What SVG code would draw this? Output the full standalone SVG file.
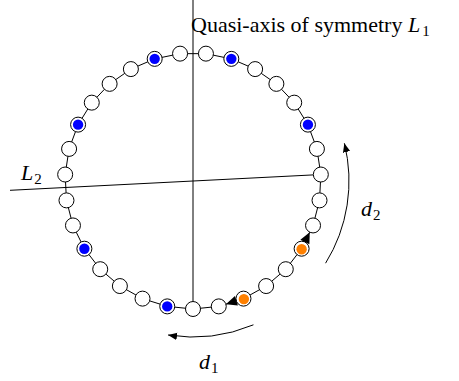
<svg xmlns="http://www.w3.org/2000/svg" width="459" height="381" viewBox="0 0 459 381">
<defs>
<style>
.nd{fill:#fff;stroke:#000;stroke-width:1}
.bl{fill:#0000ff;stroke:none}
.or{fill:#ff8000;stroke:none}
.ln{stroke:#000;stroke-width:1;fill:none}
.ah{fill:#000;stroke:none}
.t{font-family:"Liberation Serif","Times New Roman",serif;font-size:21px;fill:#000}
.hd{font-size:22px}
.it{font-style:italic;font-size:22px}
.sb{font-size:15px}
</style>
<marker id="arr" markerUnits="userSpaceOnUse" markerWidth="12" markerHeight="10" refX="9" refY="4" orient="auto" viewBox="0 0 12 10">
<path d="M9,4 L0,0.3 L0,7.7 Z" fill="#000"/>
</marker>
</defs>
<rect width="459" height="381" fill="#fff"/>
<g id="axes">
<line class="ln" x1="193" y1="0" x2="193" y2="301.5"/>
<line class="ln" x1="10" y1="190.3" x2="313.35" y2="174.9"/>
</g>
<g id="nodes">
<g id="n0"><circle class="nd" cx="193" cy="309" r="7.5"/></g>
<g id="n1"><circle class="nd" cx="167.24" cy="306.38" r="7.5"/><circle class="bl" cx="167.24" cy="306.38" r="5.2"/></g>
<g id="n2"><circle class="nd" cx="142.52" cy="298.63" r="7.5"/></g>
<g id="n3"><circle class="nd" cx="119.88" cy="286.06" r="7.5"/></g>
<g id="n4"><circle class="nd" cx="100.23" cy="269.19" r="7.5"/></g>
<g id="n5"><circle class="nd" cx="84.38" cy="248.71" r="7.5"/><circle class="bl" cx="84.38" cy="248.71" r="5.2"/></g>
<g id="n6"><circle class="nd" cx="72.96" cy="225.45" r="7.5"/></g>
<g id="n7"><circle class="nd" cx="66.47" cy="200.38" r="7.5"/></g>
<g id="n8"><circle class="nd" cx="65.16" cy="174.52" r="7.5"/></g>
<g id="n9"><circle class="nd" cx="69.09" cy="148.91" r="7.5"/></g>
<g id="n10"><circle class="nd" cx="78.08" cy="124.63" r="7.5"/><circle class="bl" cx="78.08" cy="124.63" r="5.2"/></g>
<g id="n11"><circle class="nd" cx="91.78" cy="102.65" r="7.5"/></g>
<g id="n12"><circle class="nd" cx="109.62" cy="83.87" r="7.5"/></g>
<g id="n13"><circle class="nd" cx="130.88" cy="69.09" r="7.5"/></g>
<g id="n14"><circle class="nd" cx="154.68" cy="58.87" r="7.5"/><circle class="bl" cx="154.68" cy="58.87" r="5.2"/></g>
<g id="n15"><circle class="nd" cx="180.05" cy="53.65" r="7.5"/></g>
<g id="n16"><circle class="nd" cx="205.95" cy="53.65" r="7.5"/></g>
<g id="n17"><circle class="nd" cx="231.32" cy="58.87" r="7.5"/><circle class="bl" cx="231.32" cy="58.87" r="5.2"/></g>
<g id="n18"><circle class="nd" cx="255.12" cy="69.09" r="7.5"/></g>
<g id="n19"><circle class="nd" cx="276.38" cy="83.87" r="7.5"/></g>
<g id="n20"><circle class="nd" cx="294.22" cy="102.65" r="7.5"/></g>
<g id="n21"><circle class="nd" cx="307.92" cy="124.63" r="7.5"/><circle class="bl" cx="307.92" cy="124.63" r="5.2"/></g>
<g id="n22"><circle class="nd" cx="316.91" cy="148.91" r="7.5"/></g>
<g id="n23"><circle class="nd" cx="320.84" cy="174.52" r="7.5"/></g>
<g id="n24"><circle class="nd" cx="319.53" cy="200.38" r="7.5"/></g>
<g id="n25"><circle class="nd" cx="313.04" cy="225.45" r="7.5"/></g>
<g id="n26"><circle class="nd" cx="301.62" cy="248.71" r="7.5"/><circle class="or" cx="301.62" cy="249.2" r="5.2"/></g>
<g id="n27"><circle class="nd" cx="285.77" cy="269.19" r="7.5"/></g>
<g id="n28"><circle class="nd" cx="266.12" cy="286.06" r="7.5"/></g>
<g id="n29"><circle class="nd" cx="243.48" cy="298.63" r="7.5"/><circle class="or" cx="243.9" cy="299.1" r="5.2"/></g>
<g id="n30"><circle class="nd" cx="218.76" cy="306.38" r="7.5"/></g>
</g>
<g id="connectors">
<line class="ln" x1="185.54" y1="308.24" x2="174.70" y2="307.14"/>
<line class="ln" x1="160.08" y1="304.13" x2="149.68" y2="300.88"/>
<line class="ln" x1="135.96" y1="294.99" x2="126.44" y2="289.70"/>
<line class="ln" x1="114.19" y1="281.17" x2="105.92" y2="274.08"/>
<line class="ln" x1="95.64" y1="263.26" x2="88.97" y2="254.64"/>
<line class="ln" x1="81.08" y1="241.98" x2="76.26" y2="232.18"/>
<line class="ln" x1="71.08" y1="218.19" x2="68.35" y2="207.64"/>
<line class="ln" x1="66.09" y1="192.89" x2="65.54" y2="182.01"/>
<line class="ln" x1="66.30" y1="167.11" x2="67.95" y2="156.32"/>
<line class="ln" x1="71.69" y1="141.88" x2="75.48" y2="131.66"/>
<line class="ln" x1="82.05" y1="118.27" x2="87.81" y2="109.01"/>
<line class="ln" x1="96.95" y1="97.21" x2="104.45" y2="89.31"/>
<line class="ln" x1="115.78" y1="79.59" x2="124.72" y2="73.37"/>
<line class="ln" x1="137.77" y1="66.13" x2="147.79" y2="61.83"/>
<line class="ln" x1="162.03" y1="57.36" x2="172.70" y2="55.16"/>
<line class="ln" x1="187.55" y1="53.65" x2="198.45" y2="53.65"/>
<line class="ln" x1="213.30" y1="55.16" x2="223.97" y2="57.36"/>
<line class="ln" x1="238.21" y1="61.83" x2="248.23" y2="66.13"/>
<line class="ln" x1="261.28" y1="73.37" x2="270.22" y2="79.59"/>
<line class="ln" x1="281.55" y1="89.31" x2="289.05" y2="97.21"/>
<line class="ln" x1="298.19" y1="109.01" x2="303.95" y2="118.27"/>
<line class="ln" x1="310.52" y1="131.66" x2="314.31" y2="141.88"/>
<line class="ln" x1="318.05" y1="156.32" x2="319.70" y2="167.11"/>
<line class="ln" x1="320.46" y1="182.01" x2="319.91" y2="192.89"/>
<line class="ln" x1="317.65" y1="207.64" x2="314.92" y2="218.19"/>
<line class="ln" x1="304.92" y1="241.98" x2="309.74" y2="232.18"/>
<path class="ah" d="M309.74,232.18 L300.41,239.86 L309.39,244.26 Z"/>
<line class="ln" x1="297.03" y1="254.64" x2="290.36" y2="263.26"/>
<line class="ln" x1="280.08" y1="274.08" x2="271.81" y2="281.17"/>
<line class="ln" x1="259.56" y1="289.70" x2="250.04" y2="294.99"/>
<line class="ln" x1="236.32" y1="300.88" x2="225.92" y2="304.13"/>
<path class="ah" d="M225.92,304.13 L234.91,296.07 L237.91,305.61 Z"/>
<line class="ln" x1="211.30" y1="307.14" x2="200.46" y2="308.24"/>
</g>
<g id="moves">
<path class="ln" d="M253.45,324.82 A156,156 0 0 1 168.06,334.99" marker-end="url(#arr)"/>
<path class="ln" d="M325.58,263.2 A156,156 0 0 0 344.36,143.26" marker-end="url(#arr)"/>
</g>
<g id="labels">
<text class="t hd" x="191" y="32">Quasi-axis of symmetry</text>
<text class="t" x="408" y="32"><tspan class="it">L</tspan><tspan class="sb" dx="2" dy="4">1</tspan></text>
<text class="t" x="21" y="180"><tspan class="it">L</tspan><tspan class="sb" dx="1" dy="4">2</tspan></text>
<text class="t" x="199" y="369"><tspan class="it">d</tspan><tspan class="sb" dx="1" dy="4">1</tspan></text>
<text class="t" x="361" y="216"><tspan class="it">d</tspan><tspan class="sb" dx="1" dy="4">2</tspan></text>
</g>
</svg>
